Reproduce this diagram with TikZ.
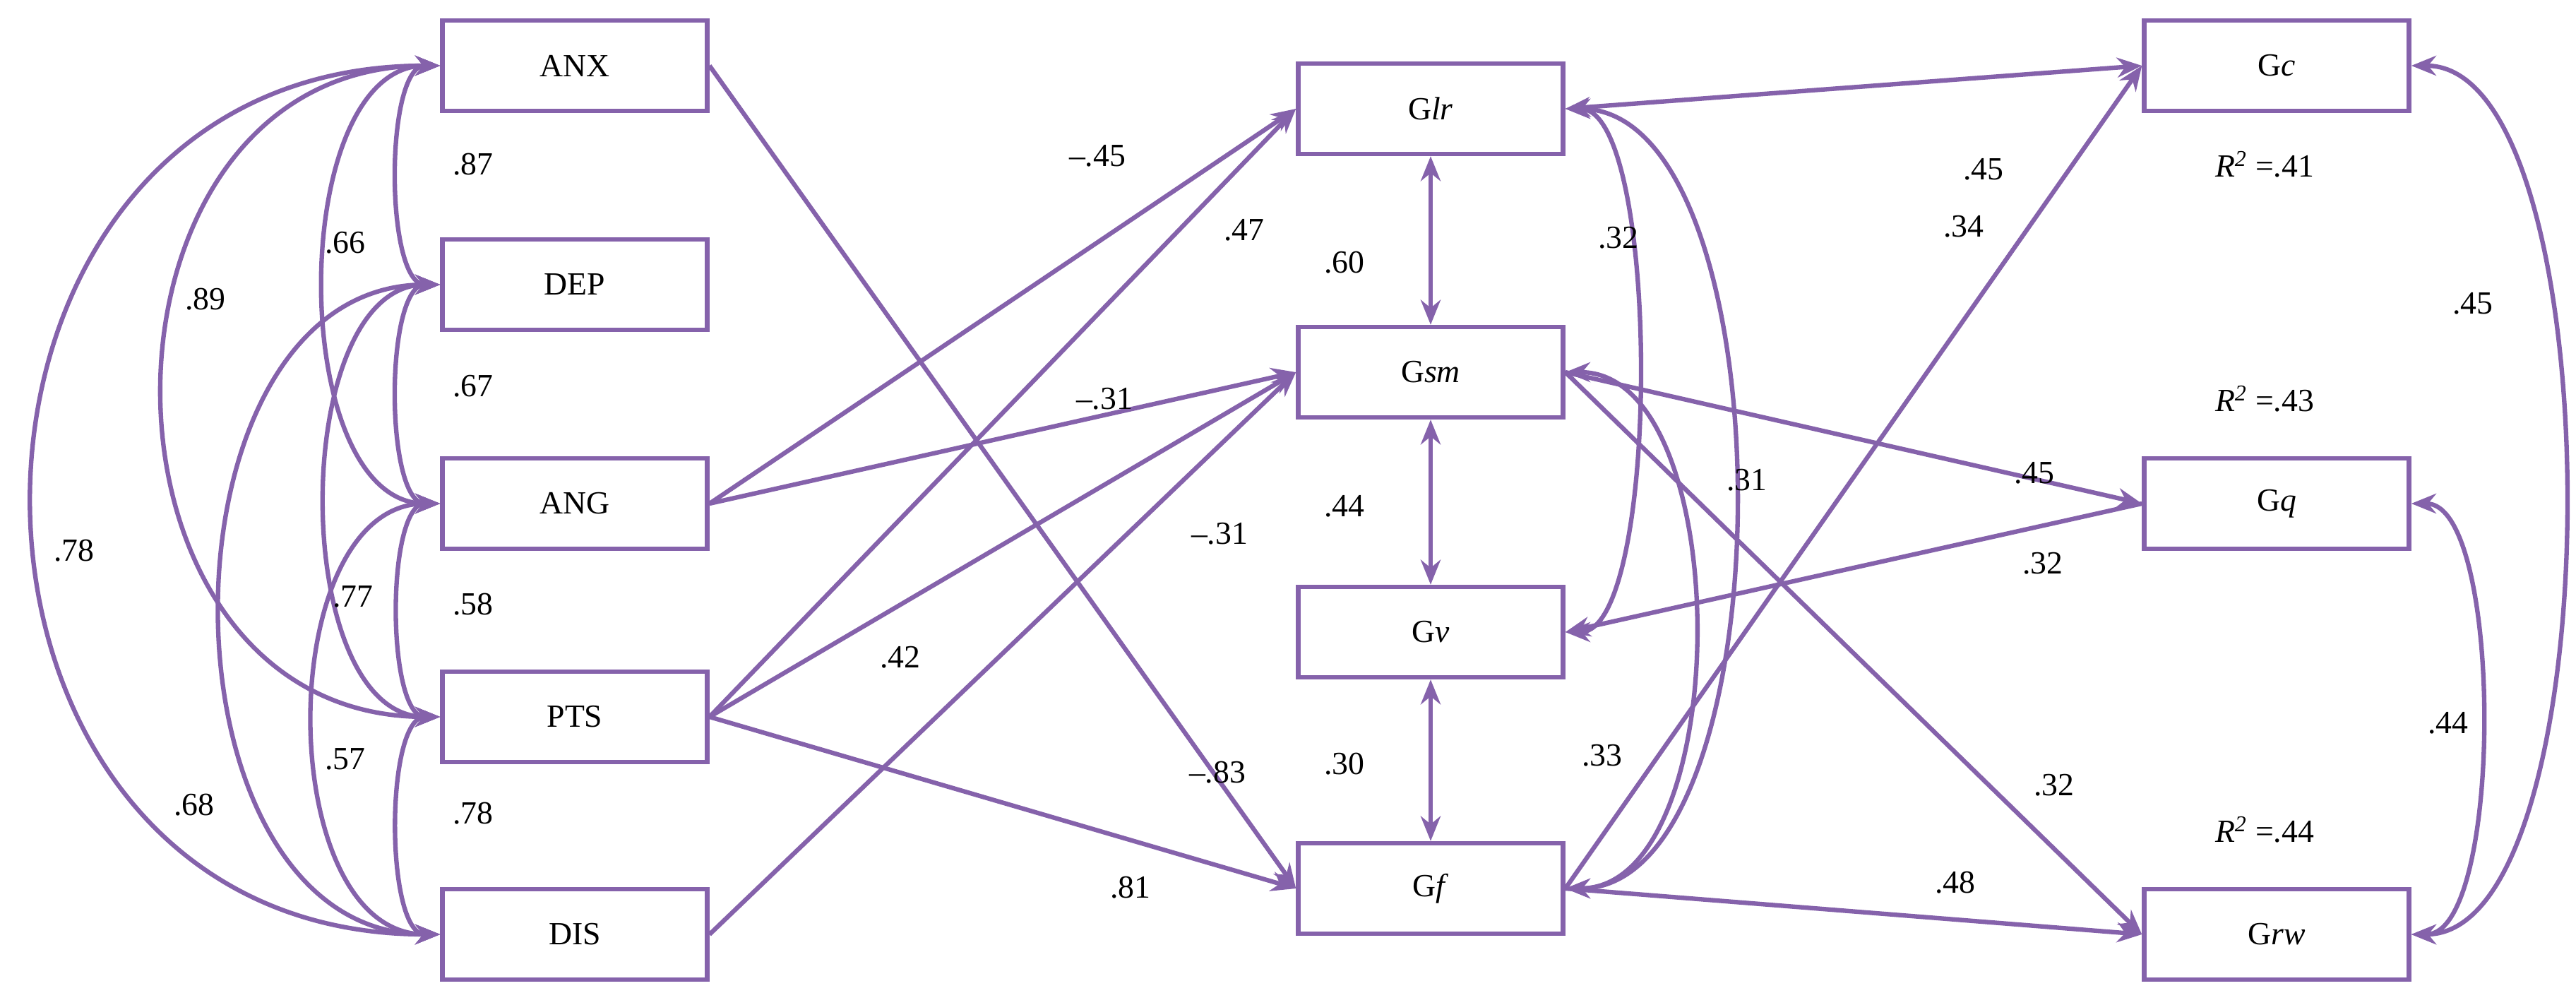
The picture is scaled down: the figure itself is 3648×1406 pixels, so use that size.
\documentclass[tikz,border=0pt]{standalone}
\usepackage{fontspec}
\setmainfont{Liberation Serif}
\usetikzlibrary{arrows.meta}
\definecolor{pur}{RGB}{133,98,171}
\begin{document}
\begin{tikzpicture}[x=0.01cm,y=-0.01cm,
  box/.style={draw=pur,line width=1.8pt,minimum width=3.75cm,minimum height=1.28cm,inner sep=0pt,font=\fontsize{13}{15}\selectfont},
  lab/.style={font=\fontsize{13}{15}\selectfont,inner sep=1pt},
  con/.style={draw=pur,line width=1.8pt,-{Stealth[length=10pt,width=8pt]}},
  cor/.style={draw=pur,line width=1.8pt,{Stealth[length=10pt,width=8pt]}-{Stealth[length=10pt,width=8pt]}},
  cl/.style={cor,out=180,in=180,looseness=#1},
  cr/.style={cor,out=0,in=0,looseness=#1}]
\useasboundingbox (0,0) rectangle (3648,1406);
\node[box] (ANX) at (814,93) {ANX};
\node[box] (DEP) at (814,403) {DEP};
\node[box] (ANG) at (814,713) {ANG};
\node[box] (PTS) at (814,1015) {PTS};
\node[box] (DIS) at (814,1323) {DIS};
\node[box] (Glr) at (2026,154) {G\textit{lr}};
\node[box] (Gsm) at (2026,527) {G\textit{sm}};
\node[box] (Gv) at (2026,895) {G\textit{v}};
\node[box] (Gf) at (2026,1258) {G\textit{f}};
\node[box] (Gc) at (3224,93) {G\textit{c}};
\node[box] (Gq) at (3224,713) {G\textit{q}};
\node[box] (Grw) at (3224,1323) {G\textit{rw}};
% left correlations
\draw[cl=0.65] (ANX.west) to (DEP.west);
\draw[cl=0.9] (ANX.west) to (ANG.west);
\draw[cl=1.45] (ANX.west) to (PTS.west);
\draw[cl=1.6] (ANX.west) to (DIS.west);
\draw[cl=0.65] (DEP.west) to (ANG.west);
\draw[cl=0.9] (DEP.west) to (PTS.west);
\draw[cl=1.15] (DEP.west) to (DIS.west);
\draw[cl=0.65] (ANG.west) to (PTS.west);
\draw[cl=1.0] (ANG.west) to (DIS.west);
\draw[cl=0.65] (PTS.west) to (DIS.west);
% paths
\draw[con] (ANX.east) -- (Gf.west);
\draw[con] (ANG.east) -- (Glr.west);
\draw[con] (ANG.east) -- (Gsm.west);
\draw[con] (PTS.east) -- (Glr.west);
\draw[con] (PTS.east) -- (Gsm.west);
\draw[con] (PTS.east) -- (Gf.west);
\draw[con] (DIS.east) -- (Gsm.west);
\draw[cor] (Glr) -- (Gsm);
\draw[cor] (Gsm) -- (Gv);
\draw[cor] (Gv) -- (Gf);
\draw[cr=0.47] (Glr.east) to (Gv.east);
\draw[cr=0.74] (Glr.east) to (Gf.east);
\draw[cr=0.85] (Gsm.east) to (Gf.east);
\draw[cor] (Glr.east) -- (Gc.west);
\draw[con] (Gf.east) -- (Gc.west);
\draw[con] (Gsm.east) -- (Gq.west);
\draw[con] (Gq.west) -- (Gv.east);
\draw[con] (Gsm.east) -- (Grw.west);
\draw[con] (Gf.east) -- (Grw.west);
\draw[cr=0.6] (Gc.east) to (Grw.east);
\draw[cr=0.55] (Gq.east) to (Grw.east);
% labels
\node[lab] (l1) at (670,233) {.87};
\node[lab] (l2) at (489,344) {.66};
\node[lab] (l3) at (291,424) {.89};
\node[lab] (l4) at (105,780) {.78};
\node[lab] (l5) at (670,547) {.67};
\node[lab] (l6) at (500,845) {.77};
\node[lab] (l7) at (275,1140) {.68};
\node[lab] (l8) at (670,856) {.58};
\node[lab] (l9) at (489,1075) {.57};
\node[lab] (l10) at (670,1152) {.78};
\node[lab] (l11) at (1554,221) {–.45};
\node[lab] (l12) at (1762,326) {.47};
\node[lab] (l13) at (1564,565) {–.31};
\node[lab] (l14) at (1727,756) {–.31};
\node[lab] (l15) at (1275,931) {.42};
\node[lab] (l16) at (1724,1094) {–.83};
\node[lab] (l17) at (1601,1257) {.81};
\node[lab] (l18) at (1904,372) {.60};
\node[lab] (l19) at (1904,717) {.44};
\node[lab] (l20) at (1904,1082) {.30};
\node[lab] (l21) at (2292,337) {.32};
\node[lab] (l22) at (2474,680) {.31};
\node[lab] (l23) at (2269,1070) {.33};
\node[lab] (l24) at (2809,240) {.45};
\node[lab] (l25) at (2781,321) {.34};
\node[lab] (l26) at (2881,670) {.45};
\node[lab] (l27) at (2893,798) {.32};
\node[lab] (l28) at (2909,1112) {.32};
\node[lab] (l29) at (2769,1250) {.48};
\node[lab] (r1) at (3207,233) {\textit{R}\textsuperscript{\textit{2}} =.41};
\node[lab] (r2) at (3207,565) {\textit{R}\textsuperscript{\textit{2}} =.43};
\node[lab] (r3) at (3207,1175) {\textit{R}\textsuperscript{\textit{2}} =.44};
\node[lab] (l30) at (3502,430) {.45};
\node[lab] (l31) at (3467,1024) {.44};
\end{tikzpicture}
\end{document}
